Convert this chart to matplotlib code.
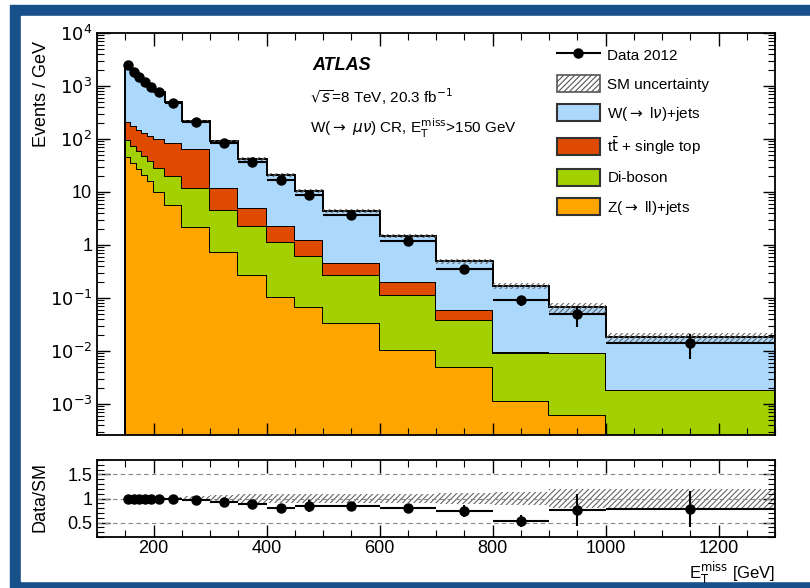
import numpy as np
import matplotlib.pyplot as plt
from matplotlib.patches import Patch, Rectangle
from matplotlib.lines import Line2D
from matplotlib.ticker import FixedLocator, FixedFormatter, LogLocator, MultipleLocator, NullFormatter

plt.rcParams['font.family'] = ['Liberation Sans', 'DejaVu Sans']
plt.rcParams['hatch.linewidth'] = 0.8

# ETmiss binning [GeV]
edges = [150, 160, 170, 180, 190, 200, 220, 250, 300, 350, 400, 450, 500,
         600, 700, 800, 900, 1000, 1300]

# events / GeV
data = [2500, 1820, 1480, 1200, 960, 770, 480, 210, 83, 37, 17, 8.8, 3.7,
        1.2, 0.36, 0.09, 0.05, 0.014]
data_err = [50, 43, 38, 35, 31, 20, 13, 6.5, 4.1, 2.7, 1.8, 1.3, 0.19,
            0.11, 0.06, 0.02, 0.022, 0.0068]

z_jets = [46, 35, 27, 21, 16, 10, 5.7, 2.2, 0.74, 0.27, 0.105, 0.068, 0.034,
          0.0105, 0.005, 0.00115, 0.00062, 0.00001]
diboson = [50, 40, 33, 27, 22, 18, 14.3, 9.8, 3.86, 2.03, 1.045, 0.552, 0.236,
           0.1045, 0.033, 0.008, 0.0085, 0.0018]
top = [114, 100, 90, 82, 77, 72, 65, 52, 7.4, 2.7, 1.15, 0.62, 0.19,
       0.085, 0.021, 0.0004, 0.0002, 0.00001]
w_jets = [2290, 1645, 1330, 1070, 845, 670, 405, 151, 78, 37, 18.7, 9.26, 3.94,
          1.28, 0.431, 0.16, 0.057, 0.0162]

# relative SM uncertainty per bin
sm_unc = [0.03, 0.03, 0.03, 0.03, 0.03, 0.03, 0.03, 0.05, 0.08, 0.1, 0.1, 0.1,
          0.1, 0.1, 0.12, 0.14, 0.2, 0.2]

edges = np.array(edges, float)
centers = 0.5 * (edges[1:] + edges[:-1])
half = 0.5 * (edges[1:] - edges[:-1])
data = np.array(data)
data_err = np.array(data_err)
sm_unc = np.array(sm_unc)

comps = [(z_jets, '#ffa500'), (diboson, '#a2d000'), (top, '#dd4a00'), (w_jets, '#acd8fc')]

fig = plt.figure(figsize=(8.1, 5.88), dpi=100)
# blue picture frame
fig.patches.append(Rectangle((10/810, 0), 800/810, 1 - 5/588, transform=fig.transFigure,
                             color='#17508a', zorder=-10))
fig.patches.append(Rectangle((21/810, 7/588), 800/810, 1 - 23/588, transform=fig.transFigure,
                             color='white', zorder=-9))

ax = fig.add_axes([97/810, 1 - 435/588, 678/810, 402/588])
rax = fig.add_axes([97/810, 1 - 537/588, 678/810, 77/588])

base = np.full(len(data), 1e-7)
for vals, col in comps:
    topv = base + np.array(vals)
    ax.stairs(topv, edges, baseline=base, fill=True, color=col, lw=0)
    ax.stairs(topv, edges, baseline=1e-7, color='black', lw=1.4)
    base = topv
sm = base

ax.stairs(sm * (1 + sm_unc), edges, baseline=sm * (1 - sm_unc), fill=True,
          facecolor='none', edgecolor='#666666', hatch='//////', lw=0)
ax.errorbar(centers, data, xerr=half, yerr=data_err, fmt='o', color='black',
            ms=6.5, lw=1.5, capsize=0)

ax.set_yscale('log')
ax.set_xlim(100, 1300)
ax.set_ylim(2.6e-4, 1e4)
dec = [1e-3, 1e-2, 1e-1, 1, 10, 1e2, 1e3, 1e4]
ax.yaxis.set_major_locator(FixedLocator(dec))
ax.yaxis.set_major_formatter(FixedFormatter(['$10^{-3}$', '$10^{-2}$', '$10^{-1}$', '1', '10',
                                             '$10^{2}$', '$10^{3}$', '$10^{4}$']))
ax.yaxis.set_minor_locator(LogLocator(base=10, subs=np.arange(2, 10), numticks=20))
ax.yaxis.set_minor_formatter(NullFormatter())
ax.xaxis.set_major_locator(MultipleLocator(200))
ax.xaxis.set_minor_locator(MultipleLocator(50))
ax.tick_params(labelbottom=False)

# ratio panel
ratio = data / sm
rax.stairs(1 + sm_unc, edges, baseline=1 - sm_unc, fill=True,
           facecolor='none', edgecolor='#666666', hatch='//////', lw=0)
for yv in [0.5, 1.0, 1.5]:
    rax.axhline(yv, color='#888888', lw=0.8, ls=(0, (4, 3)))
rax.errorbar(centers, ratio, xerr=half, yerr=data_err / sm, fmt='o', color='black',
             ms=6.5, lw=1.5, capsize=0)
rax.set_xlim(100, 1300)
rax.set_ylim(0.2, 1.8)
rax.yaxis.set_major_locator(FixedLocator([0.5, 1, 1.5]))
rax.yaxis.set_major_formatter(FixedFormatter(['0.5', '1', '1.5']))
rax.yaxis.set_minor_locator(MultipleLocator(0.1))
rax.xaxis.set_major_locator(MultipleLocator(200))
rax.xaxis.set_minor_locator(MultipleLocator(50))

for a in (ax, rax):
    a.tick_params(which='both', direction='in', top=True, right=True, labelsize=13)
    a.tick_params(which='major', length=9, width=1)
    a.tick_params(which='minor', length=5, width=0.8)
    for s in a.spines.values():
        s.set_linewidth(1.3)
rax.tick_params(axis='x', pad=2)

fig.text(42/810, 1 - 94/588, 'Events / GeV', rotation=90, ha='center', va='center', fontsize=13)
fig.text(40/810, 1 - 497/588, 'Data/SM', rotation=90, ha='center', va='center', fontsize=13)
fig.text(775/810, 1 - 573/588, r'E$_{\mathrm{T}}^{\mathrm{miss}}$ [GeV]', ha='right', va='center',
         fontsize=12)

ax.text(312/810, 1 - 65/588, 'ATLAS', transform=fig.transFigure, fontsize=13,
        fontweight='bold', fontstyle='italic', va='center')
ax.text(310/810, 1 - 97/588, r'$\sqrt{s}$=8 TeV, 20.3 fb$^{-1}$', transform=fig.transFigure,
        fontsize=11, va='center')
ax.text(310/810, 1 - 128/588, r'W($\rightarrow$ $\mu\nu$) CR, E$_{\mathrm{T}}^{\mathrm{miss}}$>150 GeV',
        transform=fig.transFigure, fontsize=11, va='center')

handles = [
    Line2D([], [], color='black', marker='o', ms=6.5, lw=1.5),
    Patch(facecolor='none', edgecolor='#555555', hatch='//////', lw=1.2),
    Patch(facecolor='#acd8fc', edgecolor='#333333', lw=1.5),
    Patch(facecolor='#dd4a00', edgecolor='#333333', lw=1.5),
    Patch(facecolor='#a2d000', edgecolor='#333333', lw=1.5),
    Patch(facecolor='#ffa500', edgecolor='#333333', lw=1.5),
]
labels = ['Data 2012', 'SM uncertainty', r'W($\rightarrow$ l$\nu$)+jets',
          r't$\bar{\mathrm{t}}$ + single top', 'Di-boson', r'Z($\rightarrow$ ll)+jets']
ax.legend(handles, labels, loc='upper left', bbox_to_anchor=(557/810, 1 - 46/588),
          bbox_transform=fig.transFigure, frameon=False, fontsize=11,
          handlelength=2.8, handleheight=1.35, labelspacing=0.78, handletextpad=0.5,
          borderaxespad=0, borderpad=0)

fig.savefig('out.png', dpi=100)
